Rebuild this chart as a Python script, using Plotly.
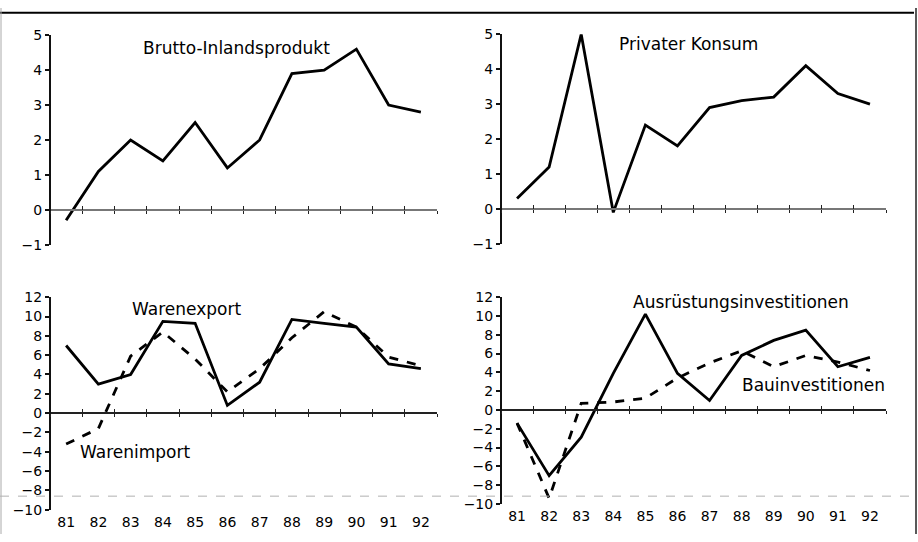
import plotly.graph_objects as go

years = ["81", "82", "83", "84", "85", "86", "87", "88", "89", "90", "91", "92"]
bip = [-0.3, 1.1, 2.0, 1.4, 2.5, 1.2, 2.0, 3.9, 4.0, 4.6, 3.0, 2.8]
konsum = [0.3, 1.2, 5.0, -0.1, 2.4, 1.8, 2.9, 3.1, 3.2, 4.1, 3.3, 3.0]
warenexport = [7.0, 3.0, 4.0, 9.5, 9.3, 0.8, 3.2, 9.7, 9.3, 8.9, 5.1, 4.6]
warenimport = [-3.2, -1.6, 5.9, 8.4, 5.6, 2.2, 4.6, 7.8, 10.5, 8.9, 5.8, 4.9]
ausruestung = [-1.4, -7.0, -2.9, 3.9, 10.2, 3.9, 1.0, 5.8, 7.4, 8.5, 4.6, 5.6]
bau = [-1.4, -9.4, 0.7, 0.85, 1.25, 3.4, 5.0, 6.3, 4.6, 5.8, 5.1, 4.2]

W, H = 918, 542
FONT = "DejaVu Sans"


def fx(px):
    return px / W


def fy(py):
    return 1 - py / H


panels = [
    dict(x0=50, x1=437, ytop=28, ybot=244, yr=[-1, 5], dtick=1, labels=False, xcol="#777777",
         series=[(bip, "solid")]),
    dict(x0=501, x1=886, ytop=27, ybot=243, yr=[-1, 5], dtick=1, labels=False, xcol="#777777",
         series=[(konsum, "solid")]),
    dict(x0=50, x1=437, ytop=298, ybot=517, yr=[-10, 12], dtick=2, labels=True, xcol="#222222",
         series=[(warenexport, "solid"), (warenimport, "dash")]),
    dict(x0=501, x1=886, ytop=298, ybot=511, yr=[-10, 12], dtick=2, labels=True, xcol="#222222",
         series=[(ausruestung, "solid"), (bau, "dash")]),
]

fig = go.Figure()
layout = {}


def axname(n):
    return "" if n == 1 else str(n)


for p, pn in enumerate(panels):
    yn = p + 1
    xa, xb, xc = 3 * p + 1, 3 * p + 2, 3 * p + 3
    lo, hi = pn["yr"]
    zero_py = pn["ytop"] + (hi - 0) / (hi - lo) * (pn["ybot"] - pn["ytop"])
    common = dict(type="category", categoryorder="array", categoryarray=years,
                  range=[-0.5, 11.5], domain=[fx(pn["x0"]), fx(pn["x1"])],
                  showgrid=False, zeroline=False, fixedrange=True)
    layout["xaxis" + axname(xa)] = dict(
        common, anchor="free", position=fy(zero_py), showline=True,
        linecolor=pn["xcol"], linewidth=1.5, ticks="outside", ticklen=3,
        tickwidth=1.3, tickcolor="#222222", tickson="boundaries", showticklabels=False)
    layout["xaxis" + axname(xb)] = dict(
        common, anchor="free", position=fy(zero_py), overlaying="x" + axname(xa),
        showline=False, ticks="inside", ticklen=4, tickwidth=1.3, tickcolor="#222222",
        tickson="boundaries", showticklabels=False)
    if pn["labels"]:
        layout["xaxis" + axname(xc)] = dict(
            common, anchor="free", position=fy(pn["ybot"] + 2), overlaying="x" + axname(xa),
            showline=False, ticks="", showticklabels=True,
            tickfont=dict(family=FONT, size=14, color="black"))
    layout["yaxis" + axname(yn)] = dict(
        domain=[fy(pn["ybot"]), fy(pn["ytop"])], anchor="free", position=fx(pn["x0"]),
        range=pn["yr"], dtick=pn["dtick"], tick0=0, showline=True, linecolor="#111111",
        linewidth=2, ticks="outside", ticklen=4, tickwidth=1.5, tickcolor="#111111",
        showgrid=False, zeroline=False, fixedrange=True,
        tickfont=dict(family=FONT, size=14, color="black"))

    for vals, dash in pn["series"]:
        fig.add_trace(go.Scatter(
            x=years, y=vals, mode="lines", xaxis="x" + axname(xa), yaxis="y" + axname(yn),
            line=dict(color="black", width=2.8, dash=dash), showlegend=False,
            hoverinfo="x+y"))
    extra = [xb] + ([xc] if pn["labels"] else [])
    for ax in extra:
        fig.add_trace(go.Scatter(
            x=years, y=pn["series"][0][0], mode="lines", xaxis="x" + axname(ax),
            yaxis="y" + axname(yn), line=dict(color="rgba(0,0,0,0)", width=0),
            showlegend=False, hoverinfo="skip"))

titles = [
    ("Brutto-Inlandsprodukt", 236, 41),
    ("Privater Konsum", 688, 37),
    ("Warenexport", 186, 310),
    ("Warenimport", 135, 458),
    ("Ausrüstungsinvestitionen", 741, 303),
    ("Bauinvestitionen", 813, 388),
]
annotations = [
    dict(text=t, x=fx(x), y=fy(y), xref="paper", yref="paper", showarrow=False,
         xanchor="center", yanchor="middle", font=dict(family=FONT, size=17, color="black"))
    for t, x, y in titles
]

shapes = [
    dict(type="line", xref="paper", yref="paper", x0=0, x1=fx(914), y0=fy(5), y1=fy(5),
         line=dict(color="black", width=2)),
    dict(type="line", xref="paper", yref="paper", x0=fx(916), x1=fx(916), y0=0, y1=1,
         line=dict(color="#222222", width=1.5)),
    dict(type="line", xref="paper", yref="paper", x0=fx(1), x1=fx(1), y0=0, y1=1,
         line=dict(color="#aaaaaa", width=1)),
    dict(type="line", xref="paper", yref="paper", x0=fx(0), x1=fx(910), y0=fy(503), y1=fy(503),
         line=dict(color="#b0b0b0", width=1, dash="dash")),
]

fig.update_layout(
    width=W, height=H, margin=dict(l=0, r=0, t=0, b=0),
    paper_bgcolor="white", plot_bgcolor="white",
    annotations=annotations, shapes=shapes, **layout)

fig.write_html(
    "out.html",
    config={"displayModeBar": False},
    post_script=(
        "document.documentElement.style.margin='0';"
        "document.body.style.margin='0';document.body.style.padding='0';"
        "document.body.style.overflow='hidden';"
        "var d=document.getElementById('{plot_id}');"
        "d.style.position='fixed';d.style.top='0px';d.style.left='0px';"
    ))
